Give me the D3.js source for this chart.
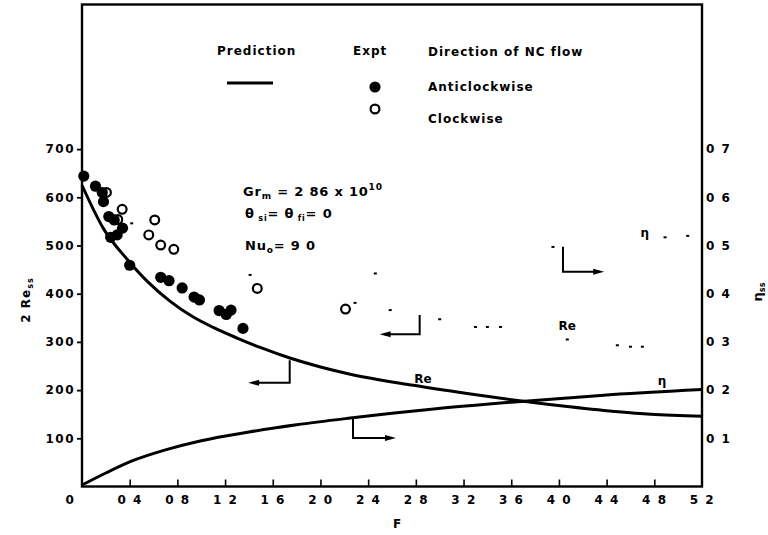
<!DOCTYPE html>
<html><head><meta charset="utf-8">
<script src="https://cdn.jsdelivr.net/npm/d3@7/dist/d3.min.js"></script>
<style>
body{margin:0;background:#fff;}
svg text{font-family:"DejaVu Sans",sans-serif;font-weight:bold;fill:#000;}
</style></head><body>
<svg id="c" width="768" height="535"></svg>
<script>
// ---- data ----
const reF  = [0, 0.18, 0.38, 0.55, 0.74, 0.93, 1.1, 1.3, 1.5, 1.75, 2.0, 2.25, 2.78, 3.23, 3.6, 4.07, 4.5, 4.77, 5.2];
const reV  = [625, 535, 471, 425, 384, 352, 330, 308, 288, 266, 248, 233, 210, 193, 180, 166, 155, 150, 146];
const etaF = [0, 0.2, 0.43, 0.7, 1.0, 1.4, 1.8, 2.25, 2.6, 2.95, 3.6, 4.35, 5.2];
const etaV = [0.003, 0.028, 0.054, 0.076, 0.095, 0.113, 0.128, 0.142, 0.152, 0.161, 0.175, 0.189, 0.201];
const antiF = [0.015, 0.113, 0.17, 0.18, 0.225, 0.27, 0.24, 0.295, 0.34, 0.40, 0.66, 0.73, 0.84, 0.94, 0.985, 1.15, 1.21, 1.25, 1.35];
const antiV = [644, 623, 610, 591, 560, 553, 517, 522, 536, 459, 434, 427, 412, 393, 387, 365, 357, 366, 328];
const clockF = [0.205, 0.30, 0.337, 0.56, 0.61, 0.66, 0.77, 1.47, 2.21];
const clockV = [610, 554, 575, 522, 553, 501, 492, 411, 368];
// faint dotted remains of a second prediction pair
const faintReF = [0.417, 2.29, 2.585, 3.0, 3.3, 3.4, 3.51, 4.07, 4.49, 4.6, 4.7];
const faintReV = [546, 381, 366, 347, 331, 331, 331, 305, 293, 290, 290];
const faintEtaF = [1.41, 2.46, 3.95, 4.89, 5.08];
const faintEtaV = [0.439, 0.442, 0.497, 0.517, 0.520];

const xTicks = [0, 0.4, 0.8, 1.2, 1.6, 2.0, 2.4, 2.8, 3.2, 3.6, 4.0, 4.4, 4.8, 5.2];
const xTickLabels = ["0", "0 4", "0 8", "1 2", "1 6", "2 0", "2 4", "2 8", "3 2", "3 6", "4 0", "4 4", "4 8", "5 2"];
const yTicks = [100, 200, 300, 400, 500, 600, 700];
const yTickLabels = ["100", "200", "300", "400", "500", "600", "700"];
const etaTicks = [0.1, 0.2, 0.3, 0.4, 0.5, 0.6, 0.7];
const etaTickLabels = ["0 1", "0 2", "0 3", "0 4", "0 5", "0 6", "0 7"];

// annotation arrows (data units)
const reArrowF = [1.742, 1.742, 1.427], reArrowV = [262, 215, 215];
const etaArrowF = [2.273, 2.273, 2.60], etaArrowV = [0.142, 0.1006, 0.1006];
const upReArrowF = [2.832, 2.832, 2.53], upReArrowV = [356, 316, 316];
const upEtaArrowF = [4.034, 4.034, 4.346], upEtaArrowV = [0.4975, 0.4456, 0.4456];

// ---- scales ----
const svg = d3.select("#c");
const x = d3.scaleLinear().domain([0, 5.2]).range([82, 702]);
const y = d3.scaleLinear().domain([0, 1000]).range([486.5, 4.5]);
const yE = d3.scaleLinear().domain([0, 1]).range([486.5, 4.5]);

// ---- axes ----
const gx = svg.append("g").attr("transform", `translate(0,${y(0)})`)
  .call(d3.axisBottom(x).tickValues(xTicks).tickSize(-7).tickPadding(9)
    .tickFormat((d, i) => xTickLabels[i]));
gx.select(".domain").remove();
gx.selectAll(".tick line").attr("stroke", "#000").attr("stroke-width", 1.6);
gx.selectAll(".tick text").style("font-size", "12px").style("letter-spacing", "1.5px")
  .attr("dx", (d, i) => i === 0 ? -12 : 0);
gx.selectAll(".tick").filter(d => d === 0 || d === 5.2).select("line").remove();

const gy = svg.append("g").attr("transform", `translate(${x(0)},0)`)
  .call(d3.axisLeft(y).tickValues(yTicks).tickSize(5).tickPadding(2)
    .tickFormat((d, i) => yTickLabels[i]));
gy.select(".domain").remove();
gy.selectAll(".tick line").attr("stroke", "#000").attr("stroke-width", 1.8);
gy.selectAll(".tick text").style("font-size", "12px").style("letter-spacing", "1.5px");

const gr = svg.append("g").attr("transform", `translate(${x(5.2)},0)`)
  .call(d3.axisRight(yE).tickValues(etaTicks).tickSize(0).tickPadding(4)
    .tickFormat((d, i) => etaTickLabels[i]));
gr.select(".domain").remove();
gr.selectAll(".tick text").style("font-size", "12px").style("letter-spacing", "1.5px");

// frame
svg.append("rect").attr("x", x(0)).attr("y", y(1000))
  .attr("width", x(5.2) - x(0)).attr("height", y(0) - y(1000))
  .attr("fill", "none").attr("stroke", "#000").attr("stroke-width", 2.4);

// axis titles
const lt = svg.append("text").attr("transform", "translate(30,300) rotate(-90)")
  .attr("text-anchor", "middle").style("font-size", "12px").style("letter-spacing", "1px");
lt.append("tspan").text("2 Re");
lt.append("tspan").attr("dy", 3).style("font-size", "8px").text("ss");
const rt = svg.append("text").attr("transform", "translate(762,292) rotate(-90)")
  .attr("text-anchor", "middle").style("font-size", "13px");
rt.append("tspan").text("η");
rt.append("tspan").attr("dy", 3).style("font-size", "8px").text("ss");
svg.append("text").attr("x", 397).attr("y", 528).attr("text-anchor", "middle")
  .style("font-size", "12px").text("F");

// ---- curves ----
const reLine = d3.line().x(d => x(d[0])).y(d => y(d[1])).curve(d3.curveMonotoneX);
const etaLine = d3.line().x(d => x(d[0])).y(d => yE(d[1])).curve(d3.curveMonotoneX);
svg.append("path").attr("d", reLine(reF.map((f, i) => [f, reV[i]])))
  .attr("fill", "none").attr("stroke", "#000").attr("stroke-width", 3);
svg.append("path").attr("d", etaLine(etaF.map((f, i) => [f, etaV[i]])))
  .attr("fill", "none").attr("stroke", "#000").attr("stroke-width", 3);

// faint dots
svg.append("g").selectAll("rect").data(faintReF.map((f, i) => [f, faintReV[i]])).join("rect")
  .attr("x", d => x(d[0]) - 1.5).attr("y", d => y(d[1]) - 1).attr("width", 3).attr("height", 2).attr("fill", "#000");
svg.append("g").selectAll("rect").data(faintEtaF.map((f, i) => [f, faintEtaV[i]])).join("rect")
  .attr("x", d => x(d[0]) - 1.5).attr("y", d => yE(d[1]) - 1).attr("width", 3).attr("height", 2).attr("fill", "#000");

// arrows
function arrow(pts, sy) {
  const p = pts.map(d => [x(d[0]), sy(d[1])]);
  svg.append("path").attr("d", d3.line()(p)).attr("fill", "none")
    .attr("stroke", "#000").attr("stroke-width", 2);
  const a = p[p.length - 1], b = p[p.length - 2];
  const dir = Math.sign(a[0] - b[0]);
  svg.append("path").attr("d", d3.line()([[a[0] + dir * 4, a[1]], [a[0] - dir * 7, a[1] - 3], [a[0] - dir * 7, a[1] + 3]]) + "Z")
    .attr("fill", "#000");
}
arrow(reArrowF.map((f, i) => [f, reArrowV[i]]), y);
arrow(etaArrowF.map((f, i) => [f, etaArrowV[i]]), yE);
arrow(upReArrowF.map((f, i) => [f, upReArrowV[i]]), y);
arrow(upEtaArrowF.map((f, i) => [f, upEtaArrowV[i]]), yE);

// curve labels
svg.append("text").attr("x", x(2.86)).attr("y", y(225) + 5).attr("text-anchor", "middle").style("font-size", "12px").text("Re");
svg.append("text").attr("x", x(4.865)).attr("y", yE(0.221) + 5).attr("text-anchor", "middle").style("font-size", "12px").text("η");
svg.append("text").attr("x", x(4.07)).attr("y", y(335) + 5).attr("text-anchor", "middle").style("font-size", "12px").text("Re");
svg.append("text").attr("x", x(4.72)).attr("y", yE(0.528) + 5).attr("text-anchor", "middle").style("font-size", "12px").text("η");

// ---- points ----
svg.append("g").selectAll("circle").data(clockF.map((f, i) => [f, clockV[i]])).join("circle")
  .attr("cx", d => x(d[0])).attr("cy", d => y(d[1])).attr("r", 4.4)
  .attr("fill", "#fff").attr("stroke", "#000").attr("stroke-width", 2.2);
svg.append("g").selectAll("circle").data(antiF.map((f, i) => [f, antiV[i]])).join("circle")
  .attr("cx", d => x(d[0])).attr("cy", d => y(d[1])).attr("r", 5.6).attr("fill", "#000");

// ---- annotation text ----
const t1 = svg.append("text").attr("x", 243).attr("y", 196).style("font-size", "13px").style("letter-spacing", "0.8px");
t1.append("tspan").text("Gr");
t1.append("tspan").attr("dy", 3).style("font-size", "9px").text("m");
t1.append("tspan").attr("dy", -3).text(" = 2 86 x 10");
t1.append("tspan").attr("dy", -6).style("font-size", "9px").text("10");
const t2 = svg.append("text").attr("x", 245).attr("y", 218).style("font-size", "13px").style("letter-spacing", "0.8px");
t2.append("tspan").text("θ");
t2.append("tspan").attr("dy", 3).style("font-size", "8px").text(" si");
t2.append("tspan").attr("dy", -3).text("= θ");
t2.append("tspan").attr("dy", 3).style("font-size", "8px").text(" fi");
t2.append("tspan").attr("dy", -3).text("= 0");
const t3 = svg.append("text").attr("x", 245).attr("y", 250).style("font-size", "13px").style("letter-spacing", "0.8px");
t3.append("tspan").text("Nu");
t3.append("tspan").attr("dy", 3).style("font-size", "9px").text("o");
t3.append("tspan").attr("dy", -3).text("= 9 0");

// ---- legend ----
const lg = svg.append("g").style("font-size", "12px").style("letter-spacing", "1px");
lg.append("text").attr("x", 217).attr("y", 55).text("Prediction");
lg.append("text").attr("x", 353).attr("y", 55).text("Expt");
lg.append("text").attr("x", 428).attr("y", 56).text("Direction of NC flow");
lg.append("line").attr("x1", 227).attr("x2", 273).attr("y1", 83).attr("y2", 83).attr("stroke", "#000").attr("stroke-width", 3);
lg.append("circle").attr("cx", 375).attr("cy", 87).attr("r", 5.6).attr("fill", "#000");
lg.append("text").attr("x", 428).attr("y", 91).text("Anticlockwise");
lg.append("circle").attr("cx", 375).attr("cy", 109).attr("r", 4.4).attr("fill", "#fff").attr("stroke", "#000").attr("stroke-width", 2.2);
lg.append("text").attr("x", 428).attr("y", 123).text("Clockwise");
</script>
</body></html>
